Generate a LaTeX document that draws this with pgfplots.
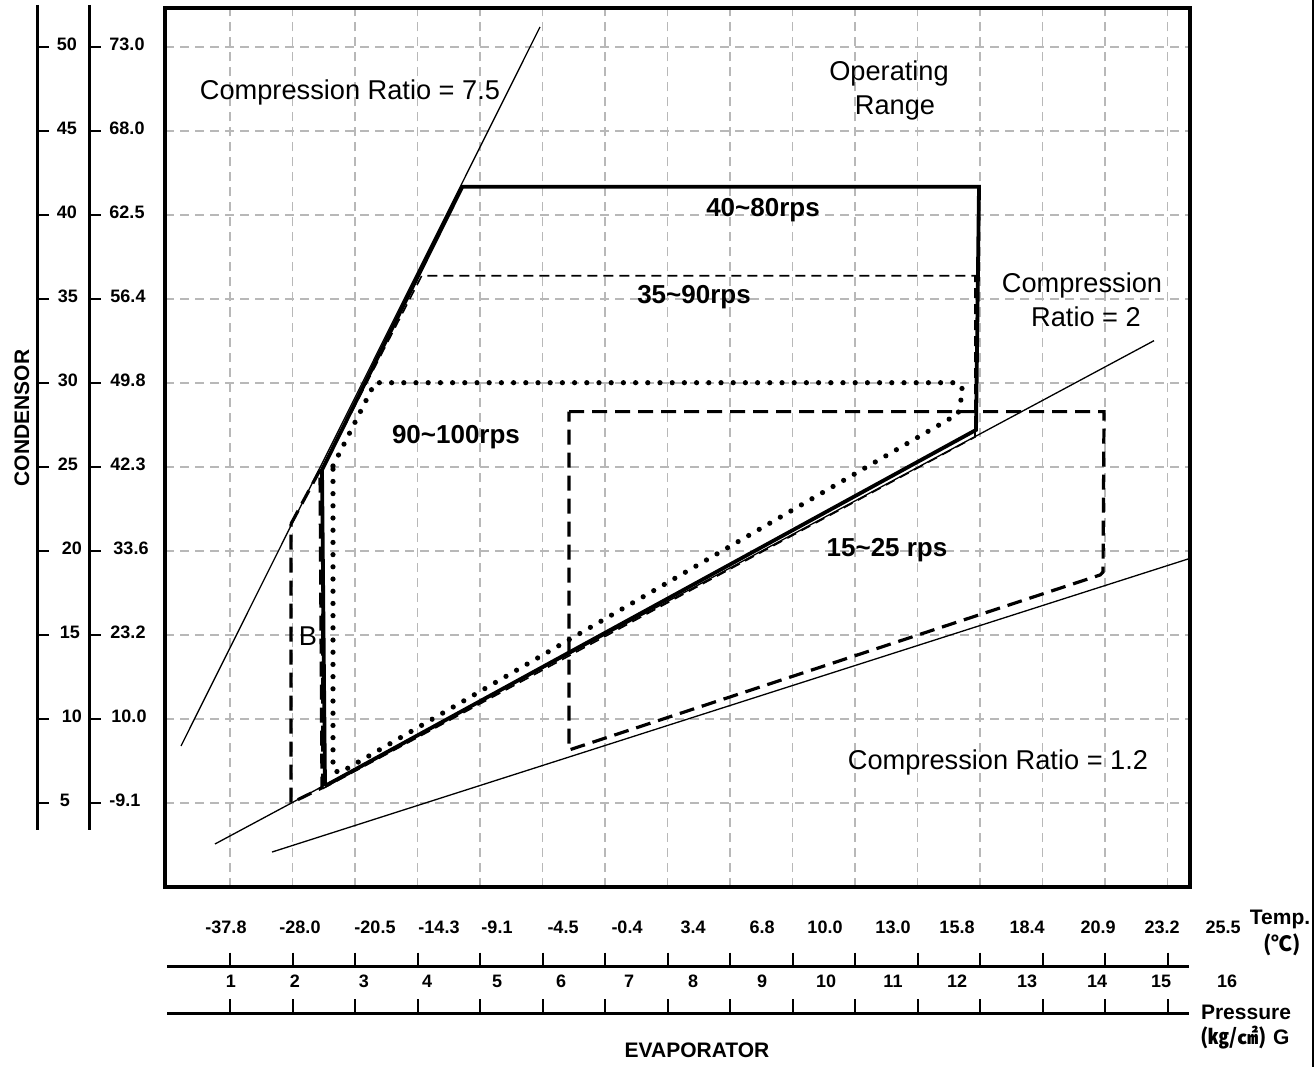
\documentclass[border=0pt]{standalone}
\usepackage{fontspec}
\setmainfont{Liberation Sans}
\newfontfamily\cjk{Noto Sans CJK KR}
\usepackage{pgfplots}
\pgfplotsset{compat=1.18}

% px: picture coordinates in pixels of the 1315x1067 reference (y downwards)
\tikzset{
  px/.style={x=0.5pt, y=-0.5pt, shift={(-82.5pt,443.25pt)}},
  cr/.style={black, line width=0.65pt, mark=none},
  r4080/.style={black, line width=1.9pt, mark=none},
  r3590/.style={black, line width=0.8pt, dash pattern=on 5pt off 3pt, mark=none},
  r90100/.style={black, line width=2.6pt, line cap=round, dash pattern=on 0pt off 6.1pt, mark=none},
  r1525/.style={black, line width=1.6pt, dash pattern=on 7.5pt off 4pt, mark=none},
  tl/.style={font=\bfseries\fontsize{9}{10}\selectfont, inner sep=0pt},
  al/.style={font=\bfseries\fontsize{10.5}{12}\selectfont, inner sep=0pt},
  big/.style={font=\fontsize{13.6}{16}\selectfont, inner sep=0pt},
  bigb/.style={font=\bfseries\fontsize{13}{15}\selectfont, inner sep=0pt},
}

\begin{document}
\begin{tikzpicture}
\begin{axis}[
  at={(0,0)}, anchor=south west,
  width=512.5pt, height=439.25pt, scale only axis,
  xmin=-0.04, xmax=16.36, ymin=0.05, ymax=52.31,
  xtick={1,...,16}, ytick={5,10,...,50},
  xticklabels={}, yticklabels={},
  major tick length=0pt,
  grid=major,
  grid style={black!28, line width=0.8pt, dash pattern=on 4.5pt off 3pt},
  axis line style={line width=2pt},
  clip=false,
]
% compression ratio lines
\addplot[cr] coordinates {(0.216,8.41) (5.96,51.18)};     % 7.5
\addplot[cr] coordinates {(0.76,2.58) (15.784,32.52)};    % 2
\addplot[cr] coordinates {(1.672,2.10) (16.36,19.57)};    % 1.2

% 15~25 rps
\addplot[r1525] coordinates {(6.424,28.30) (14.984,28.30) (14.968,18.76) (14.92,18.58) (6.424,8.17) (6.424,28.30)};
% B
\addplot[r1525] coordinates {(1.976,21.62) (2.44,24.83) (2.472,5.92) (1.976,5.02) (1.976,21.62)};
% 35~90 rps
\addplot[r3590] coordinates {(2.472,24.83) (4.067,36.38) (12.92,36.38) (12.92,26.79) (2.472,5.85) (2.472,24.83)};
% 90~100 rps
\addplot[r90100] coordinates {(2.648,25.07) (3.32,30.02) (12.648,30.02) (12.728,29.59) (12.648,28.16) (2.76,6.82) (2.648,6.98) (2.648,25.07)};
% 40~80 rps
\addplot[r4080] coordinates {(2.52,6.03) (2.472,24.83) (4.717,41.68) (12.984,41.68) (12.936,27.21) (2.52,6.03)};
\end{axis}

\begin{scope}[px]
% labels in the plot
\node[big] at (350,92) {Compression Ratio = 7.5};
\node[big] at (889,73) {Operating};
\node[big] at (895,108) {Range};
\node[bigb] at (763,210) {40\textasciitilde80rps};
\node[bigb] at (694,297) {35\textasciitilde90rps};
\node[big] at (1082,285) {Compression};
\node[big] at (1086,317) {Ratio = 2};
\node[bigb] at (456,437) {90\textasciitilde100rps};
\node[bigb] at (887,550) {15\textasciitilde25 rps};
\node[big] at (308,636) {B};
\node[big] at (998,762) {Compression Ratio = 1.2};

% condensor scales
\draw[line width=1.65pt] (37.7,5) -- (37.7,830);
\draw[line width=1.65pt] (89.3,5) -- (89.3,830);
\foreach \v/\a/\xa/\b/\xb in {50/50/67/73.0/127, 45/45/67/68.0/127, 40/40/67/62.5/127,
    35/35/68/56.4/128, 30/30/68/49.8/128, 25/25/68/42.3/128, 20/20/72/33.6/131,
    15/15/70/23.2/128, 10/10/72/10.0/129, 5/5/65/-9.1/125} {
  \draw[line width=1pt] (37.7,{803.3-(\v-5)*16.81}) -- ++(11.5,0);
  \draw[line width=1pt] (89.3,{803.3-(\v-5)*16.81}) -- ++(11.5,0);
  \node[tl] at (\xa,{800.3-(\v-5)*16.81}) {\a};
  \node[tl] at (\xb,{800.3-(\v-5)*16.81}) {\b};
}
\node[al, rotate=90] at (22,418) {CONDENSOR};

% evaporator scales
\draw[line width=1.35pt] (167,966.7) -- (1189,966.7);
\draw[line width=1.35pt] (167,1013.3) -- (1189,1013.3);
\foreach \k in {0,...,15} {
  \draw[line width=1pt] ({230+62.5*\k},952.7) -- ({230+62.5*\k},966.7);
  \draw[line width=1pt] ({230+62.5*\k},999.3) -- ({230+62.5*\k},1013.3);
}
\foreach \x/\t in {226/-37.8, 300/-28.0, 375/-20.5, 439/-14.3, 497/-9.1, 563/-4.5,
    627/-0.4, 693/3.4, 762/6.8, 825/10.0, 893/13.0, 957/15.8, 1027/18.4,
    1098/20.9, 1162/23.2, 1223/25.5}
  \node[tl] at (\x,927.7) {\t};
\foreach \x/\t in {231/1, 295/2, 364/3, 427/4, 497/5, 561/6, 629/7, 693/8, 762/9,
    826/10, 893/11, 957/12, 1027/13, 1097/14, 1161/15, 1227/16}
  \node[tl] at (\x,981.7) {\t};
\node[al] at (1280,919) {Temp.};
\node[al] at (1282,945) {{\cjk (℃)}};
\node[al] at (1246,1012.7) {Pressure};
\node[al] at (1245,1038) {{\cjk (㎏/㎠)} G};
\node[al] at (697,1050.7) {EVAPORATOR};

\draw[line width=0.6pt] (1313,0) -- (1313,1067);
\end{scope}

\pgfresetboundingbox
\begin{scope}[px]
\path (0,0) rectangle (1315,1067);
\end{scope}
\end{tikzpicture}
\end{document}
